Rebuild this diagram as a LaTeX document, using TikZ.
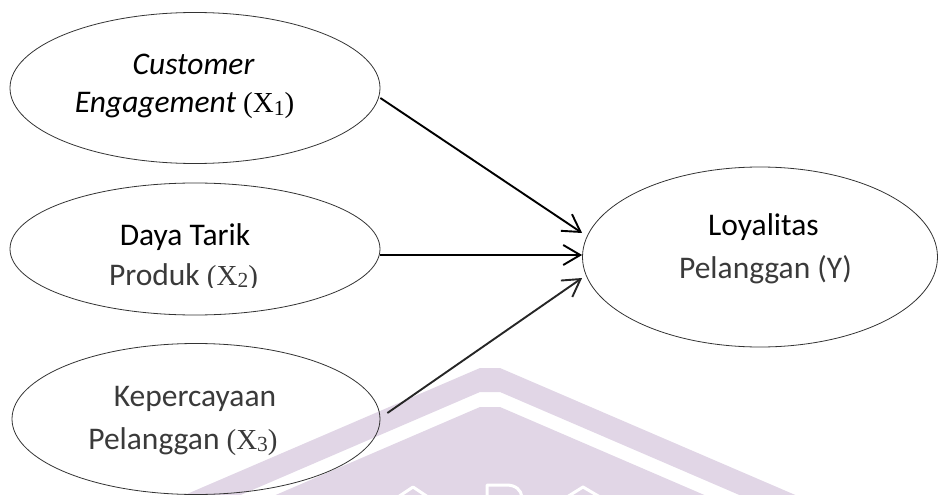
\documentclass[tikz,border=0pt]{standalone}
\usepackage{fontspec}
\setmainfont{Carlito}
\newfontfamily\tnr{Liberation Serif}
\usetikzlibrary{shapes.geometric,arrows.meta,calc}
\definecolor{wm}{RGB}{225,214,230}
\definecolor{txtgray}{RGB}{58,58,58}
\newcommand{\subX}[1]{{\tnr\fontsize{29}{31}\selectfont (X\raisebox{-2pt}{\fontsize{21.5}{22}\selectfont #1})}}
\begin{document}
\begin{tikzpicture}[x=1pt,y=-1pt,
  ell/.style={draw=black!80, line width=0.8pt, ellipse, inner sep=0pt},
  lbl/.style={anchor=base, inner sep=0pt, font=\fontsize{31.5}{38}\selectfont},
  arr/.style={line width=1.9pt, -{Straight Barb[length=17pt,width=20pt]}},
  wmline/.style={draw=white, line width=3pt, line join=round}]
\useasboundingbox (0,0) rectangle (938,495);
\clip (0,0) rectangle (938,495);
% faint watermark
\fill[wm] (173,500) -- (480,368) -- (500,368) -- (807,500) -- (751,500) -- (500,392) -- (480,392) -- (229,500) -- cycle;
\fill[wm] (264,500) -- (480,407) -- (500,407) -- (716,500) -- cycle;
\draw[wmline] (398,497) -- (413,487) -- (428,497);
\draw[wmline] (487,497) -- (487,485) -- (506,485) .. controls (516,485) and (521,490) .. (522,497);
\draw[wmline] (567,497) -- (583,487) -- (600,497);
% ellipses
\node[ell, minimum width=370pt, minimum height=151pt] (e1) at (195,88) {};
\node[ell, minimum width=370pt, minimum height=132pt] (e2) at (195,249) {};
\node[ell, minimum width=368pt, minimum height=151pt] (e3) at (196,419) {};
\node[ell, minimum width=355pt, minimum height=180pt] (ey) at (760,257) {};
% labels
\node[lbl] (t1a) at (193.5,75) {\itshape Customer};
\node[lbl] (t1b) at (184.5,113) {\itshape Engagement\upshape{} \subX{1}};
\node[lbl] (t2a) at (185,245) {Daya Tarik};
\begin{scope}
\clip (0,0) rectangle (938,287);
\node[lbl, text=txtgray] (t2b) at (183.5,285) {Produk \subX{2}};
\end{scope}
\node[lbl, text=txtgray] (t3a) at (195,406) {Kepercayaan};
\node[lbl, text=txtgray] (t3b) at (183,449) {Pelanggan \subX{3}};
\node[lbl] (tya) at (763.5,235) {Loyalitas};
\node[lbl, text=txtgray] (tyb) at (765.5,278) {Pelanggan (Y)};
% arrows
\draw[arr] ($(e1.east)+(0,10)$) -- ($(ey.west)+(0,-24)$);
\draw[arr] ($(e2.east)+(0,6)$) -- ($(ey.west)+(0,-2)$);
\draw[arr, draw=black!85] ($(e3.east)+(7,-6)$) -- ($(ey.west)+(0,21)$);
\end{tikzpicture}
\end{document}
